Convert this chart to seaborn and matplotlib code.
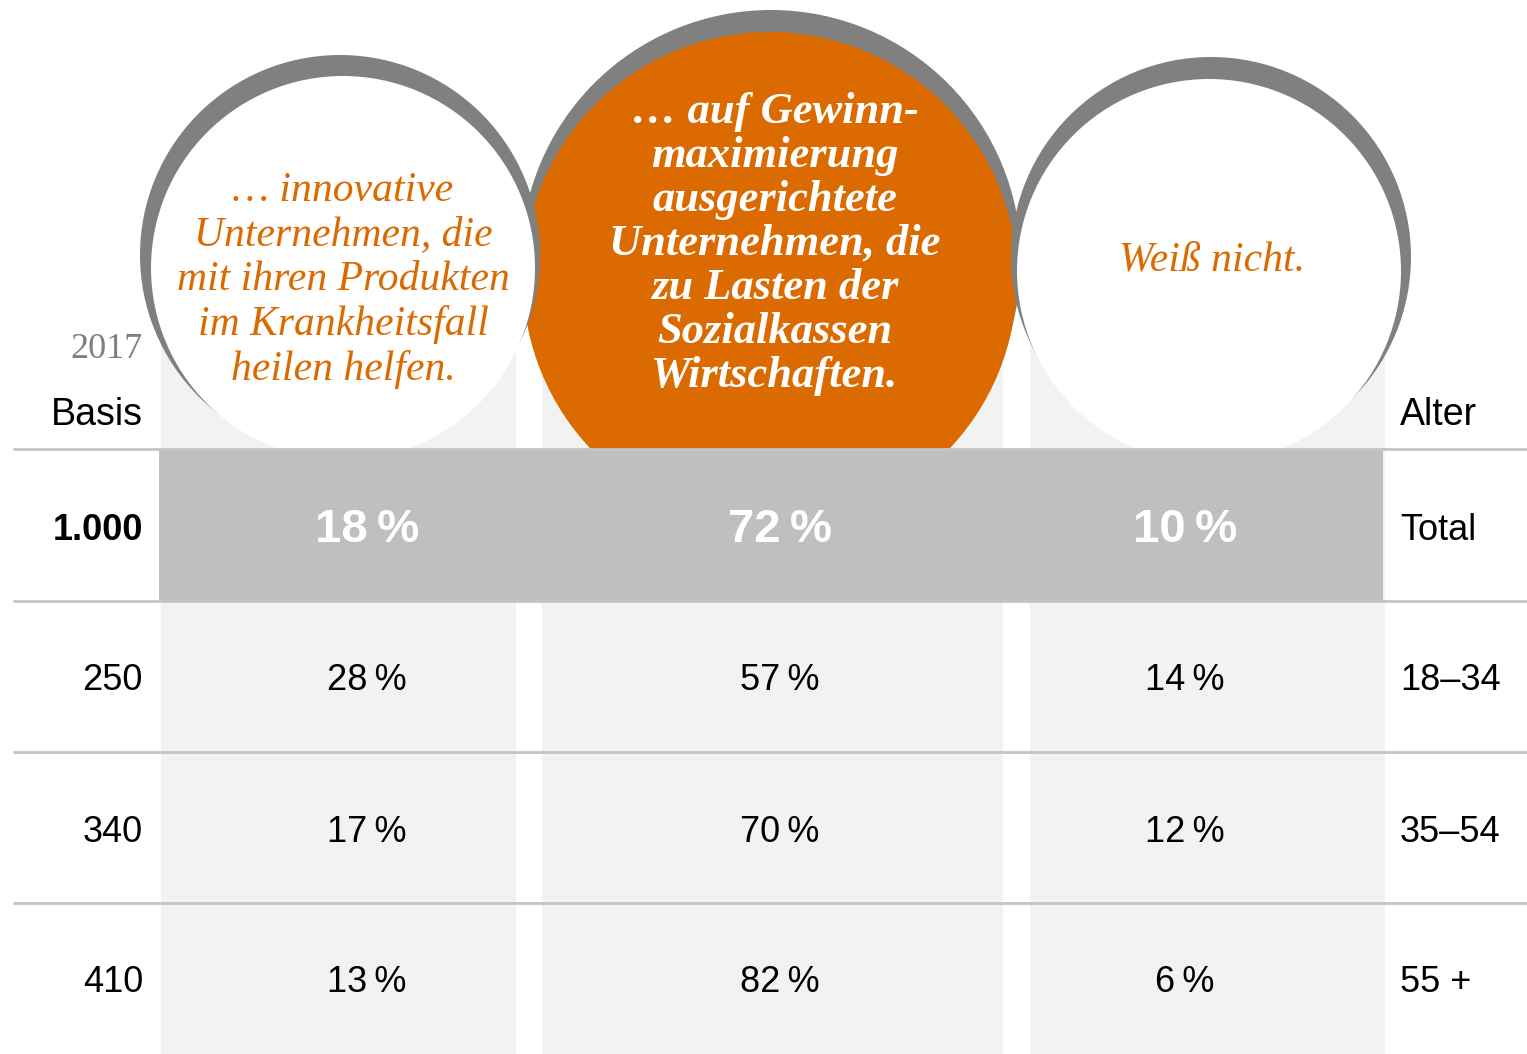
import seaborn as sns
import matplotlib
matplotlib.use('Agg')
import matplotlib.pyplot as plt
from matplotlib.patches import Circle, Rectangle

# chart content
categories = [
    '\u2026 innovative\nUnternehmen, die\nmit ihren Produkten\nim Krankheitsfall\nheilen helfen.',
    '\u2026 auf Gewinn-\nmaximierung\nausgerichtete\nUnternehmen, die\nzu Lasten der\nSozialkassen\nWirtschaften.',
    'Wei\u00df nicht.',
]
age_groups = ['Total', '18\u201334', '35\u201354', '55 +']
basis = ['1.000', '250', '340', '410']
share_innovative = [18, 28, 17, 13]
share_profit = [72, 57, 70, 82]
share_unknown = [10, 14, 12, 6]
year_label = '2017'

ORANGE = '#db6a00'
SHADOW = '#808080'
BAND = '#bfbfbf'
COLBG = '#f2f2f2'
LINE = '#c4c4c4'

sns.set_theme(style='white')
plt.rcParams['font.family'] = ['Liberation Sans', 'DejaVu Sans']

W, H = 1527, 1054
fig = plt.figure(figsize=(W / 100, H / 100), dpi=100)
ax = fig.add_axes([0, 0, 1, 1])
ax.set_xlim(0, W)
ax.set_ylim(H, 0)
ax.axis('off')

# column layout (pixels)
col_left = [161, 542, 1030]
col_right = [516, 1003, 1385]
col_center = [367, 780, 1185]
row_y = [530, 681, 832, 983]
line_y = [449, 601, 752, 903]
row_h = 152

# light column backgrounds
for l, r in zip(col_left, col_right):
    ax.add_patch(Rectangle((l, 330), r - l, H - 330, color=COLBG, lw=0, zorder=1))

# bubbles: (shadow centre, shadow r, fill centre, fill r, fill colour)
bubbles = [
    ((340, 255), 200, (343, 268), 192, 'white'),
    ((771, 260), 250, (770, 279), 247, ORANGE),
    ((1211, 257), 200, (1209, 271), 192, 'white'),
]
clip = Rectangle((0, 0), W, line_y[0], transform=ax.transData)
order = [1, 0, 2]
for z, i in enumerate(order):
    sc, sr, fc, fr, col = bubbles[i]
    p1 = ax.add_patch(Circle(sc, sr, color=SHADOW, lw=0, zorder=2 + 2 * z))
    p2 = ax.add_patch(Circle(fc, fr, color=col, lw=0, zorder=3 + 2 * z))
    p1.set_clip_path(clip)
    p2.set_clip_path(clip)

serif = ['Liberation Serif', 'DejaVu Serif']
ax.text(343, 280, categories[0], ha='center', va='center', fontsize=30,
        style='italic', color=ORANGE, family=serif, linespacing=1.2, zorder=10)
ax.text(775, 244, categories[1], ha='center', va='center', fontsize=32,
        style='italic', weight='bold', color='white', family=serif,
        linespacing=1.13, zorder=10)
ax.text(1212, 260, categories[2], ha='center', va='center', fontsize=30,
        style='italic', color=ORANGE, family=serif, zorder=10)

# total band and row lines
ax.add_patch(Rectangle((159, line_y[0]), 1383 - 159, row_h, color=BAND, lw=0, zorder=12))
for y in line_y:
    ax.plot([13, W], [y, y], color=LINE, lw=2, zorder=13, solid_capstyle='butt')

# header labels
ax.text(143, 350, year_label, ha='right', va='center', fontsize=26,
        color='#7f7f7f', family=serif, zorder=10)
ax.text(143, 415, 'Basis', ha='right', va='center', fontsize=27, color='black', zorder=10)
ax.text(1400, 415, 'Alter', ha='left', va='center', fontsize=27, color='black', zorder=10)

# table body
values = [share_innovative, share_profit, share_unknown]
for r, y in enumerate(row_y):
    total = r == 0
    ax.text(143, y, basis[r], ha='right', va='center', fontsize=26,
            weight='bold' if total else 'normal', color='black', zorder=14)
    ax.text(1400, y, age_groups[r], ha='left', va='center', fontsize=26,
            color='black', zorder=14)
    for c in range(3):
        ax.text(col_center[c], y, f'{values[c][r]}\u2009%', ha='center', va='center',
                fontsize=34 if total else 26, weight='bold' if total else 'normal',
                color='white' if total else 'black', zorder=14)

fig.savefig('out.png', dpi=100)
plt.close(fig)
